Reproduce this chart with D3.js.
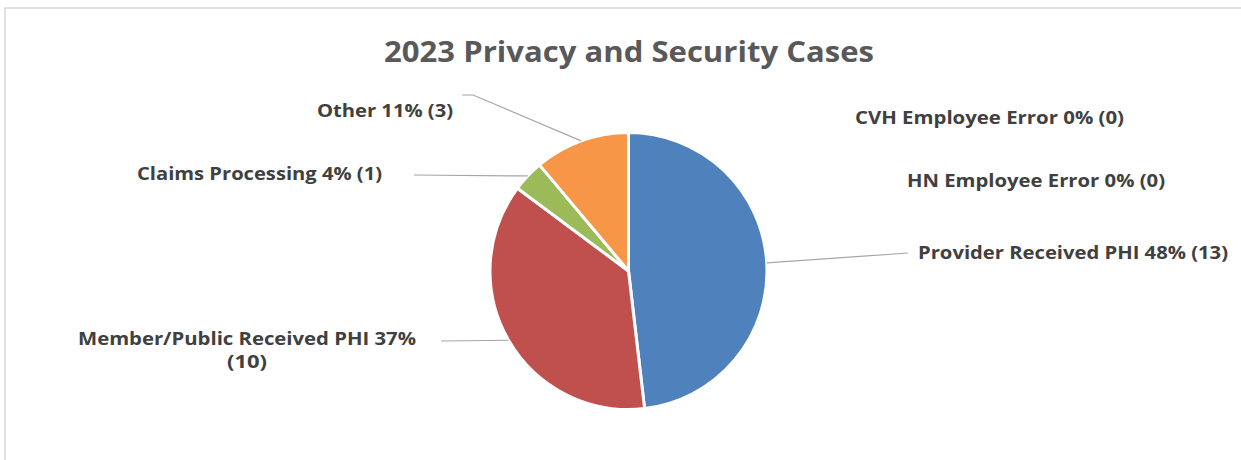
<!DOCTYPE html>
<html>
<head>
<meta charset="utf-8">
<script src="https://cdn.jsdelivr.net/npm/d3@7"></script>
<style>
  body { margin: 0; background: #fff; }
  text { font-family: "Open Sans", sans-serif; font-weight: bold; }
</style>
</head>
<body>
<svg></svg>
<script>
// chart data
const categories = ['CVH Employee Error', 'HN Employee Error', 'Provider Received PHI',
    'Member/Public Received PHI', 'Claims Processing', 'Other'];
const cases = [0, 0, 13, 10, 1, 3];
const percents = ['0%', '0%', '48%', '37%', '4%', '11%'];
const colors = ['#4F81BD', '#4F81BD', '#4F81BD', '#C0504D', '#9BBB59', '#F79646'];

const size = {w: 1241, h: 460};
const svg = d3.select('svg')
    .attr('width', size.w)
    .attr('height', size.h);

// chart frame (cropped at right and bottom)
svg.append('rect')
    .attr('x', 5).attr('y', 8)
    .attr('width', size.w + 20).attr('height', size.h + 20)
    .attr('fill', 'none')
    .attr('stroke', '#d9d9d9')
    .attr('stroke-width', 1.5);

// title
svg.append('text')
    .attr('x', 629).attr('y', 62)
    .attr('text-anchor', 'middle')
    .attr('font-size', 29)
    .attr('fill', '#595959')
    .attr('textLength', 490)
    .attr('lengthAdjust', 'spacingAndGlyphs')
    .text('2023 Privacy and Security Cases');

const cx = 628.5, cy = 271, r = 138.5;
const pieG = svg.append('g').attr('transform', `translate(${cx},${cy})`);

const pie = d3.pie().sort(null).value(d => d)(cases);
const arc = d3.arc().innerRadius(0).outerRadius(r);

pieG.selectAll('path')
    .data(pie)
    .join('path')
    .attr('d', arc)
    .attr('fill', (d, i) => colors[i])
    .attr('stroke', d => d.value > 0 ? '#fff' : 'none')
    .attr('stroke-width', 3)
    .attr('stroke-linejoin', 'round');

// label layout: anchor, text position, text width, leader line points
const labelLayout = [
    {x: 855, y: 124, anchor: 'start', w: 269},
    {x: 907, y: 187, anchor: 'start', w: 258},
    {x: 918, y: 259, anchor: 'start', w: 310, line: [[908, 253]]},
    {x: 247, y: 345, anchor: 'middle', w: 338, line: [[441, 341]], wrap: true},
    {x: 137, y: 180, anchor: 'start', w: 245, line: [[414, 175]]},
    {x: 317, y: 117, anchor: 'start', w: 136, line: [[473, 95], [462, 95]]}
];

const lineGen = d3.line();
pie.forEach((d, i) => {
    const lay = labelLayout[i];
    if (lay.line) {
        const a = (d.startAngle + d.endAngle) / 2;
        const start = [cx + r * Math.sin(a), cy - r * Math.cos(a)];
        svg.append('path')
            .attr('d', lineGen([start, ...lay.line]))
            .attr('fill', 'none')
            .attr('stroke', '#a6a6a6')
            .attr('stroke-width', 1.2);
    }
    const full = `${categories[i]} ${percents[i]} (${cases[i]})`;
    const t = svg.append('text')
        .attr('text-anchor', lay.anchor)
        .attr('font-size', 18.5)
        .attr('fill', '#404040');
    if (lay.wrap) {
        t.append('tspan').attr('x', lay.x).attr('y', lay.y)
            .attr('textLength', lay.w).attr('lengthAdjust', 'spacingAndGlyphs')
            .text(`${categories[i]} ${percents[i]}`);
        t.append('tspan').attr('x', lay.x).attr('y', lay.y + 23)
            .attr('textLength', 40).attr('lengthAdjust', 'spacingAndGlyphs')
            .text(`(${cases[i]})`);
    } else {
        t.attr('x', lay.x).attr('y', lay.y)
            .attr('textLength', lay.w).attr('lengthAdjust', 'spacingAndGlyphs')
            .text(full);
    }
});
</script>
</body>
</html>
